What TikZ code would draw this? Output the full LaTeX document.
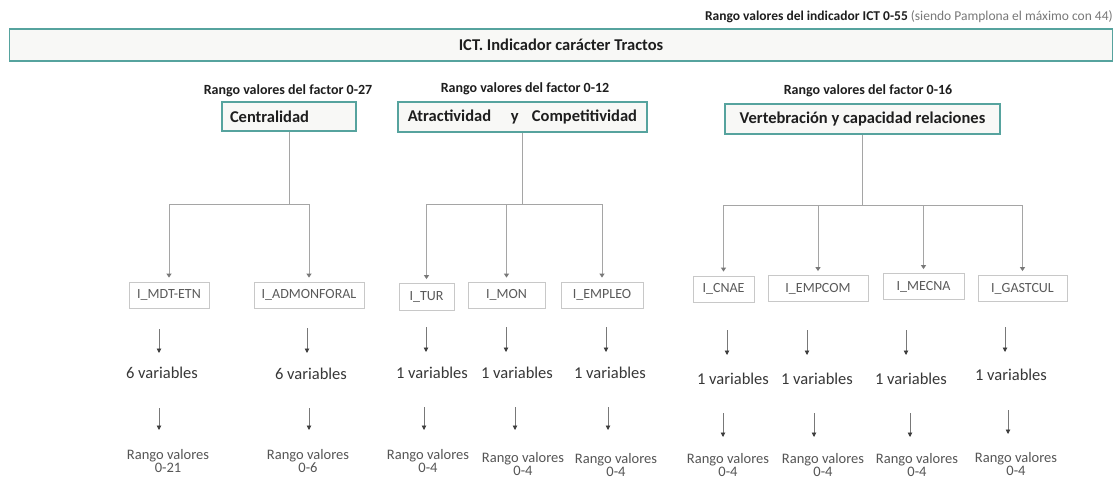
\documentclass[tikz,border=0pt]{standalone}
\usepackage{fontspec}
\setmainfont{Carlito}
\usetikzlibrary{arrows.meta}
\definecolor{tealb}{RGB}{86,163,158}
\definecolor{boxfill}{RGB}{248,248,246}
\definecolor{txtdark}{RGB}{30,30,30}
\definecolor{gline}{RGB}{200,200,200}
\definecolor{gtext}{RGB}{90,90,90}
\definecolor{cline}{RGB}{165,165,165}
\definecolor{chead}{RGB}{120,120,120}
\definecolor{aline}{RGB}{120,120,120}
\definecolor{ahead}{RGB}{60,60,60}
\definecolor{vtext}{RGB}{55,55,55}
\definecolor{rtext}{RGB}{85,85,85}
\definecolor{ptext}{RGB}{120,120,120}
\begin{document}
\begin{tikzpicture}[x=1pt,y=-1pt,
  hdr/.style={draw=tealb,line width=1.8pt,fill=boxfill,text=txtdark,font=\bfseries\fontsize{16.5}{19}\selectfont,inner sep=0pt},
  rangehdr/.style={text=txtdark,font=\bfseries\fontsize{14}{17}\selectfont,inner sep=0pt},
  ind/.style={draw=gline,line width=0.8pt,fill=white,text=gtext,font=\fontsize{14}{17}\selectfont,minimum height=26pt,inner sep=0pt},
  conn/.style={draw=cline,line width=1pt},
  connarr/.style={conn,-{Triangle[width=5pt,length=4pt,color=chead]},shorten >=4pt},
  varr/.style={draw=aline,line width=0.9pt,-{Triangle[width=4.5pt,length=4.5pt,color=ahead]}},
  vartxt/.style={text=vtext,font=\fontsize{16.5}{19}\selectfont,inner sep=0pt},
  rtxt/.style={text=rtext,font=\fontsize{14.5}{13}\selectfont,align=center,inner sep=0pt}
]
\useasboundingbox[fill=white] (0,0) rectangle (1115,479);

% top
\node[anchor=east,inner sep=0pt,text=txtdark,font=\fontsize{13.5}{16}\selectfont] (ictr) at (1113,17)
  {\textbf{Rango valores del indicador ICT 0-55} \textcolor{ptext}{(siendo Pamplona el máximo con 44)}};
\node[hdr,minimum width=1103,minimum height=32] (ict) at (561,45) {ICT. Indicador carácter Tractos};

% factors
\node[rangehdr] (rc) at (288,91) {Rango valores del factor 0-27};
\node[rangehdr] (ra) at (525,89) {Rango valores del factor 0-12};
\node[rangehdr] (rv) at (868,91) {Rango valores del factor 0-16};

\node[hdr,minimum width=134,minimum height=29,text width=118,align=left] (cent) at (289,116.5) {Centralidad};
\node[hdr,minimum width=249,minimum height=30] (atr) at (522.5,117) {Atractividad\hspace{1.2em}y\hspace{0.8em}Competitividad};
\node[hdr,minimum width=275,minimum height=30] (ver) at (862.5,119) {Vertebración y capacidad relaciones};

% indicators
\node[ind,minimum width=80] (mdt) at (169,295) {I\_MDT-ETN};
\node[ind,minimum width=110] (adm) at (309,295) {I\_ADMONFORAL};
\node[ind,minimum width=55,minimum height=27] (tur) at (426.5,297) {I\_TUR};
\node[ind,minimum width=77] (mon) at (506.5,295) {I\_MON};
\node[ind,minimum width=82] (emp) at (602,295) {I\_EMPLEO};
\node[ind,minimum width=61] (cna) at (723.5,289) {I\_CNAE};
\node[ind,minimum width=100] (emc) at (818,288.5) {I\_EMPCOM};
\node[ind,minimum width=81] (mec) at (923.5,286.5) {I\_MECNA};
\node[ind,minimum width=89] (gas) at (1022.5,288.5) {I\_GASTCUL};

% junctions
\coordinate (jc) at (289,204.5);
\coordinate (ja) at (522.5,204.5);
\coordinate (jv) at (862.5,205);

\draw[conn] (cent.south) -- (jc);
\draw[connarr] (jc) -| (mdt.north);
\draw[connarr] (jc) -| (adm.north);

\draw[conn] (atr.south) -- (ja);
\draw[connarr] (ja) -| (tur.north);
\draw[connarr] (ja) -| (mon.north);
\draw[connarr] (ja) -| (emp.north);

\draw[conn] (ver.south) -- (jv);
\draw[connarr] (jv) -| (cna.north);
\draw[connarr] (jv) -| (emc.north);
\draw[connarr] (jv) -| (mec.north);
\draw[connarr] (jv) -| (gas.north);

% bottom columns
\foreach \i/\nv/\vx/\vy/\ax/\at/\ab/\bx/\bt/\bb/\rx/\ry/\rv in {
  1/6/162/373/159/329/353/159/408/430/168/461/0-21,
  2/6/311/374/307/328/353/309/408/430/308/461/0-6,
  3/1/432/373/426/327/352/424/407/430/428/461/0-4,
  4/1/517/373/506/327/352/515/407/430/523/464/0-4,
  5/1/610/373/606/327/352/608/407/430/616/465/0-4,
  6/1/733/379/727/330/355/723/413/437/728/465/0-4,
  7/1/817/379/807/330/355/814/413/437/823/465/0-4,
  8/1/911/379/906/330/355/910/413/437/917/465/0-4,
  9/1/1011/375/1005/327/352/1008/410/434/1016/464/0-4}{
  \node[vartxt] (v\i) at (\vx,\vy) {\nv{} variables};
  \node[rtxt] (r\i) at (\rx,\ry) {Rango valores\\\rv};
  \draw[varr] ([xshift={\ax-\vx},yshift={\vy-\at}]v\i.center) -- ([xshift={\ax-\vx},yshift={\vy-\ab}]v\i.center);
  \draw[varr] ([xshift={\bx-\vx},yshift={\vy-\bt}]v\i.center) -- ([xshift={\bx-\rx},yshift={\ry-\bb}]r\i.center);
}
\end{tikzpicture}
\end{document}
